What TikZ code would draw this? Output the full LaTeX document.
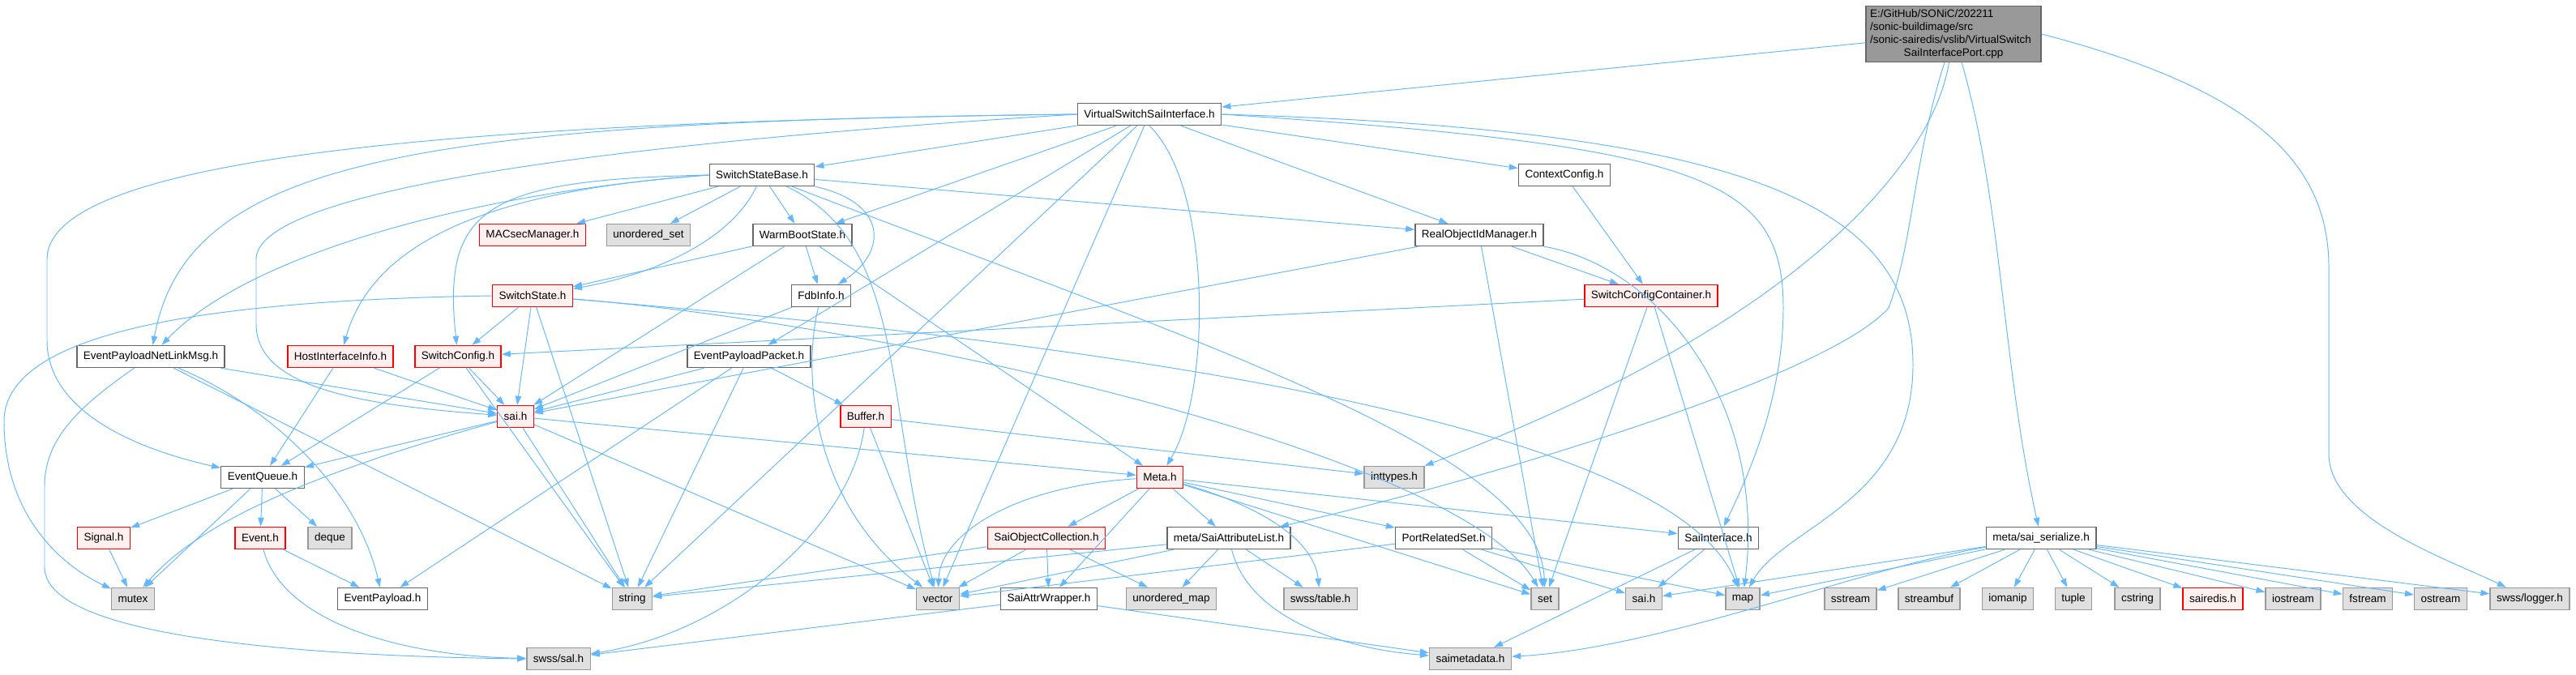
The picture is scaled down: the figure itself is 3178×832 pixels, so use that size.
\documentclass[tikz,border=0pt]{standalone}
\usepackage{fontspec}
\setmainfont{Liberation Sans}
\usetikzlibrary{arrows.meta}

\begin{document}
\begin{tikzpicture}[x=0.02cm, y=-0.02cm,
    every node/.style={font=\fontsize{7.7}{9.2}\selectfont},
    box/.style={draw=boxline, fill=white, line width=0.8pt, minimum height=0.54cm, inner xsep=0.16cm, inner ysep=0pt},
    redbox/.style={box, draw=red, fill=redfill},
    graybox/.style={box, draw=grayline, fill=grayfill},
    dep/.style={draw=edgeblue, line width=0.55pt, -{Triangle[length=0.22cm, width=0.15cm]}}]
		% Define colors
		\definecolor{edgeblue}{RGB}{99, 184, 255}
		\definecolor{boxline}{RGB}{102, 102, 102}
		\definecolor{redfill}{RGB}{255, 240, 240}
		\definecolor{grayfill}{RGB}{224, 224, 224}
		\definecolor{grayline}{RGB}{153, 153, 153}
		\definecolor{rootfill}{RGB}{153, 153, 153}
		
		\useasboundingbox (0,0) rectangle (3178,832);
		
		% ROOT FILE
		\node[box, fill=rootfill, text width=4.12cm, align=left, inner xsep=0.1cm, inner ysep=0.08cm,
			font=\fontsize{7.7}{9.07}\selectfont] (root) at (2410,42)
			{E:/GitHub/SONiC/202211\\/sonic-buildimage/src\\/sonic-sairedis/vslib/VirtualSwitch\\\makebox[\linewidth][c]{SaiInterfacePort.cpp}};
		
		% ROW 1 - 2
		\node[box] (vssi) at (1418,141) {VirtualSwitchSaiInterface.h};
		\node[box] (ssb) at (940,216) {SwitchStateBase.h};
		\node[box] (ctx) at (1930,216) {ContextConfig.h};
		
		% ROW 3
		\node[redbox] (macsec) at (657,290) {MACsecManager.h};
		\node[graybox] (uset) at (800,290) {unordered\_set};
		\node[box] (wbs) at (990,290) {WarmBootState.h};
		\node[box] (roim) at (1825,290) {RealObjectIdManager.h};
		
		% ROW 4
		\node[redbox] (swstate) at (657,365) {SwitchState.h};
		\node[box] (fdb) at (1013,365) {FdbInfo.h};
		\node[redbox] (scc) at (2037,365) {SwitchConfigContainer.h};
		
		% ROW 5
		\node[box] (epnl) at (186,440) {EventPayloadNetLinkMsg.h};
		\node[redbox] (hostif) at (420,440) {HostInterfaceInfo.h};
		\node[redbox] (swconf) at (565,440) {SwitchConfig.h};
		\node[box] (epp) at (924,440) {EventPayloadPacket.h};
		
		% ROW 6 - 7
		\node[redbox] (saih) at (636,514) {sai.h};
		\node[redbox] (buffer) at (1068,514) {Buffer.h};
		\node[box] (evq) at (324,589) {EventQueue.h};
		\node[redbox] (meta) at (1431,589) {Meta.h};
		\node[graybox] (inttypes) at (1720,589) {inttypes.h};
		
		% ROW 8
		\node[redbox] (signal) at (128,664) {Signal.h};
		\node[redbox] (event) at (321,664) {Event.h};
		\node[graybox] (deque) at (407,664) {deque};
		\node[redbox] (soc) at (1291,664) {SaiObjectCollection.h};
		\node[box] (sal) at (1516,664) {meta/SaiAttributeList.h};
		\node[box] (prs) at (1781,664) {PortRelatedSet.h};
		\node[box] (saiif) at (2120,664) {SaiInterface.h};
		\node[box] (serialize) at (2518,664) {meta/sai\_serialize.h};
		
		% ROW 9
		\node[graybox] (mutex) at (164,739) {mutex};
		\node[box] (evpay) at (472,739) {EventPayload.h};
		\node[graybox] (string) at (780,739) {string};
		\node[graybox] (vector) at (1157,739) {vector};
		\node[box] (saw) at (1294,739) {SaiAttrWrapper.h};
		\node[graybox] (umap) at (1445,739) {unordered\_map};
		\node[graybox] (table) at (1629,739) {swss/table.h};
		\node[graybox] (set) at (1906,739) {set};
		\node[graybox] (saigray) at (2028,739) {sai.h};
		\node[graybox] (map) at (2150,739) {map};
		\node[graybox] (sstream) at (2283,739) {sstream};
		\node[graybox] (streambuf) at (2380,739) {streambuf};
		\node[graybox] (iomanip) at (2477,739) {iomanip};
		\node[graybox] (tuple) at (2558,739) {tuple};
		\node[graybox] (cstring) at (2637,739) {cstring};
		\node[redbox] (sairedis) at (2730,739) {sairedis.h};
		\node[graybox] (iostream) at (2829,739) {iostream};
		\node[graybox] (fstream) at (2921,739) {fstream};
		\node[graybox] (ostream) at (3011,739) {ostream};
		\node[graybox] (logger) at (3121,739) {swss/logger.h};
		
		% ROW 10
		\node[graybox] (swsssal) at (689,813) {swss/sal.h};
		\node[graybox] (saimeta) at (1814,813) {saimetadata.h};
		
		% EDGES FROM THE ROOT
		\draw[dep] (root) -- (vssi);
		\draw[dep] (root) .. controls (2385,200) and (2220,400) .. (inttypes);
		\draw[dep] (root) .. controls (2360,200) and (2360,300) .. (2330,380) .. controls (2250,470) and (1800,600) .. (sal);
		\draw[dep] (root) .. controls (2470,250) and (2470,450) .. (serialize);
		\draw[dep] (root.east) .. controls (2780,110) and (2873,200) .. (2873,330) -- (2873,560) .. controls (2873,640) and (3020,690) .. (logger);
		
		% VirtualSwitchSaiInterface.h
		\draw[dep] (vssi) -- (ssb);
		\draw[dep] (vssi) -- (wbs);
		\draw[dep] (vssi) -- (ctx);
		\draw[dep] (vssi) -- (roim);
		\draw[dep] (vssi) -- (epp);
		\draw[dep] (vssi) -- (string);
		\draw[dep] (vssi) -- (vector);
		\draw[dep] (vssi.south) .. controls (1495,230) and (1495,480) .. (meta);
		\draw[dep] (vssi.east) .. controls (2100,180) and (2200,220) .. (2200,380) .. controls (2200,500) and (2150,600) .. (saiif);
		\draw[dep] (vssi.east) .. controls (2150,160) and (2360,250) .. (2360,450) .. controls (2360,620) and (2200,650) .. (map);
		\draw[dep] (vssi.west) .. controls (500,150) and (230,200) .. (epnl);
		\draw[dep] (vssi.west) .. controls (600,150) and (58,190) .. (58,320) -- (58,420) .. controls (58,500) and (150,550) .. (evq);
		\draw[dep] (vssi.west) .. controls (700,180) and (316,240) .. (316,320) -- (316,400) .. controls (316,480) and (450,500) .. (saih);
		
		% SwitchStateBase.h
		\draw[dep] (ssb) -- (macsec);
		\draw[dep] (ssb) -- (uset);
		\draw[dep] (ssb) -- (wbs);
		\draw[dep] (ssb) -- (roim);
		\draw[dep] (ssb) .. controls (1500,430) and (1900,560) .. (set);
		\draw[dep] (ssb) .. controls (900,300) and (800,340) .. (swstate);
		\draw[dep] (ssb.south east) .. controls (1095,250) and (1095,310) .. (fdb);
		\draw[dep] (ssb) .. controls (1120,300) and (1090,500) .. (vector);
		\draw[dep] (ssb.west) .. controls (600,222) and (545,255) .. (swconf);
		\draw[dep] (ssb.west) .. controls (600,235) and (460,300) .. (hostif);
		\draw[dep] (ssb.west) .. controls (560,240) and (300,320) .. (epnl);
		
		% WarmBootState.h, FdbInfo.h
		\draw[dep] (wbs) -- (swstate);
		\draw[dep] (wbs) -- (fdb);
		\draw[dep] (wbs) -- (saih);
		\draw[dep] (wbs) -- (meta);
		\draw[dep] (fdb) -- (saih);
		\draw[dep] (fdb) .. controls (990,460) and (1000,620) .. (vector);
		
		% SwitchState.h
		\draw[dep] (swstate) -- (swconf);
		\draw[dep] (swstate) -- (saih);
		\draw[dep] (swstate) -- (string);
		\draw[dep] (swstate) .. controls (1100,400) and (1800,560) .. (set);
		\draw[dep] (swstate) .. controls (1200,410) and (2050,500) .. (map);
		\draw[dep] (swstate.west) .. controls (300,370) and (5,400) .. (5,520) .. controls (5,640) and (80,700) .. (mutex);
		
		% ContextConfig.h, RealObjectIdManager.h, SwitchConfigContainer.h
		\draw[dep] (ctx) -- (scc);
		\draw[dep] (roim) -- (scc);
		\draw[dep] (roim) -- (saih);
		\draw[dep] (roim) -- (set);
		\draw[dep] (roim) .. controls (2050,330) and (2180,500) .. (map);
		\draw[dep] (scc) -- (swconf);
		\draw[dep] (scc) -- (set);
		\draw[dep] (scc) -- (map);
		
		% EventPayloadNetLinkMsg.h, HostInterfaceInfo.h, SwitchConfig.h
		\draw[dep] (epnl) -- (saih);
		\draw[dep] (epnl) -- (string);
		\draw[dep] (epnl) .. controls (330,500) and (440,600) .. (evpay);
		\draw[dep] (epnl) .. controls (100,500) and (55,540) .. (55,600) -- (55,700) .. controls (55,790) and (400,810) .. (swsssal.west);
		\draw[dep] (hostif) -- (evq);
		\draw[dep] (hostif) -- (saih);
		\draw[dep] (swconf) -- (evq);
		\draw[dep] (swconf) -- (saih);
		\draw[dep] (swconf) -- (string);
		
		% EventPayloadPacket.h, Buffer.h
		\draw[dep] (epp) -- (saih);
		\draw[dep] (epp) -- (buffer);
		\draw[dep] (epp) -- (string);
		\draw[dep] (epp) -- (evpay);
		\draw[dep] (buffer) -- (inttypes);
		\draw[dep] (buffer) -- (vector);
		\draw[dep] (buffer) .. controls (1050,650) and (900,780) .. (swsssal);
		
		% sai.h
		\draw[dep] (saih) -- (evq);
		\draw[dep] (saih) -- (string);
		\draw[dep] (saih) -- (vector);
		\draw[dep] (saih) -- (meta);
		\draw[dep] (saih) .. controls (400,580) and (250,640) .. (mutex);
		
		% EventQueue.h, Signal.h, Event.h
		\draw[dep] (evq) -- (signal);
		\draw[dep] (evq) -- (event);
		\draw[dep] (evq) -- (deque);
		\draw[dep] (evq) -- (mutex);
		\draw[dep] (signal) -- (mutex);
		\draw[dep] (event) -- (evpay);
		\draw[dep] (event) .. controls (350,770) and (500,810) .. (swsssal);
		
		% Meta.h
		\draw[dep] (meta) -- (soc);
		\draw[dep] (meta) -- (saw);
		\draw[dep] (meta) -- (sal);
		\draw[dep] (meta) -- (prs);
		\draw[dep] (meta) -- (set);
		\draw[dep] (meta) -- (saiif);
		\draw[dep] (meta) .. controls (1540,620) and (1620,660) .. (table);
		\draw[dep] (meta) .. controls (1250,600) and (1160,660) .. (vector);
		
		% SaiObjectCollection.h, meta/SaiAttributeList.h, PortRelatedSet.h
		\draw[dep] (soc) -- (vector);
		\draw[dep] (soc) -- (saw);
		\draw[dep] (soc) -- (umap);
		\draw[dep] (soc) -- (string);
		\draw[dep] (sal) -- (string);
		\draw[dep] (sal) -- (vector);
		\draw[dep] (sal) -- (umap);
		\draw[dep] (sal) -- (table);
		\draw[dep] (sal) .. controls (1540,760) and (1650,800) .. (saimeta);
		\draw[dep] (prs) -- (vector);
		\draw[dep] (prs) -- (set);
		\draw[dep] (prs) -- (saigray);
		\draw[dep] (prs) -- (map);
		
		% SaiAttrWrapper.h, SaiInterface.h
		\draw[dep] (saw) -- (swsssal);
		\draw[dep] (saw) -- (saimeta);
		\draw[dep] (saiif) -- (saigray);
		\draw[dep] (saiif) -- (saimeta);
		
		% meta/sai_serialize.h
		\draw[dep] (serialize) -- (saigray);
		\draw[dep] (serialize) -- (map);
		\draw[dep] (serialize) .. controls (2300,700) and (2050,800) .. (saimeta);
		\foreach \dst in {sstream, streambuf, iomanip, tuple, cstring, sairedis, iostream, fstream, ostream, logger}
			\draw[dep] (serialize) -- (\dst);
		
	\end{tikzpicture}
\end{document}
